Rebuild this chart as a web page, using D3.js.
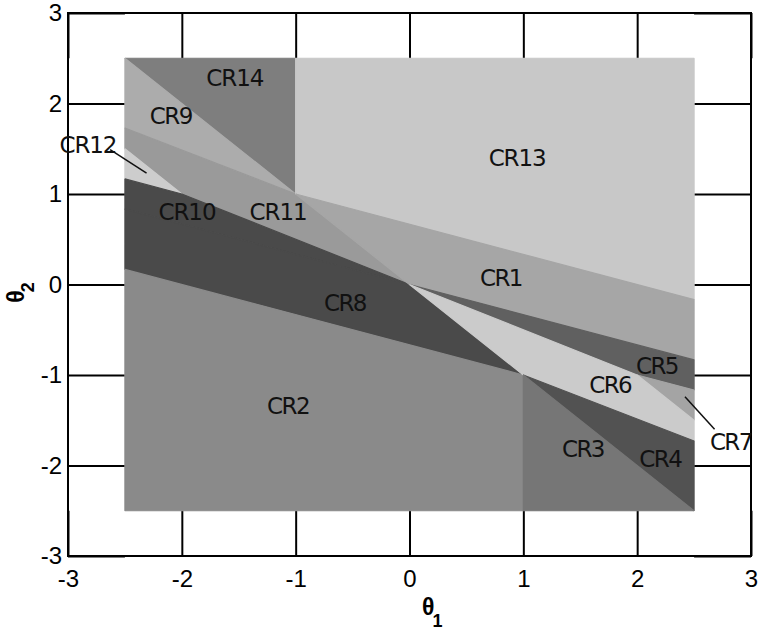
<!DOCTYPE html>
<html>
<head>
<meta charset="utf-8">
<script src="https://cdn.jsdelivr.net/npm/d3@7"></script>
<style>
  body { margin: 0; background: #fff; }
  svg { display: block; }
</style>
</head>
<body>
<svg id="chart"></svg>
<script>
// critical regions, vertices in (theta1, theta2)
const regionNames = ["CR14", "CR9", "CR11", "CR12", "CR10", "CR8", "CR2",
                     "CR13", "CR1", "CR5", "CR7", "CR6", "CR4", "CR3"]
const regionPoints = [
  [[-2.5, 2.5], [-1, 2.5], [-1, 1]],
  [[-2.5, 2.5], [-1, 1], [-2.5, 1.73]],
  [[-2.5, 1.73], [-1, 1], [0, 0], [-2, 1], [-2.5, 1.5]],
  [[-2.5, 1.5], [-2, 1], [-2.5, 1.167]],
  [[-2.5, 1.167], [-2, 1], [0, 0], [-2.5, 0.833]],
  [[-2.5, 0.833], [0, 0], [1, -1], [-2.5, 0.167]],
  [[-2.5, 0.167], [1, -1], [1, -2.5], [-2.5, -2.5]],
  [[-1, 2.5], [2.5, 2.5], [2.5, -0.167], [-1, 1]],
  [[-1, 1], [2.5, -0.167], [2.5, -0.833], [0, 0]],
  [[0, 0], [2.5, -0.833], [2.5, -1.167], [2, -1]],
  [[2, -1], [2.5, -1.167], [2.5, -1.5]],
  [[0, 0], [2, -1], [2.5, -1.5], [2.5, -1.73], [1, -1]],
  [[1, -1], [2.5, -1.73], [2.5, -2.5]],
  [[1, -1], [2.5, -2.5], [1, -2.5]]
]
const regionGray = ["#7e7e7e", "#acacac", "#9a9a9a", "#cdcdcd", "#4a4a4a", "#4a4a4a", "#8a8a8a",
                    "#c8c8c8", "#a6a6a6", "#606060", "#a4a4a4", "#cbcbcb", "#525252", "#767676"]

// label anchors (theta1, theta2)
const labelNames = ["CR14", "CR9", "CR12", "CR10", "CR11", "CR13", "CR1",
                    "CR8", "CR2", "CR5", "CR6", "CR7", "CR3", "CR4"]
const labelX = [-1.53, -2.09, -2.82, -1.95, -1.15, 0.95, 0.81, -0.56, -1.06, 2.18, 1.77, 2.83, 1.53, 2.21]
const labelY = [2.28, 1.86, 1.55, 0.80, 0.80, 1.40, 0.08, -0.20, -1.34, -0.90, -1.11, -1.74, -1.82, -1.93]

// leader lines for the small regions
const leaders = [
  {from: [-2.63, 1.49], to: [-2.31, 1.23]},
  {from: [2.42, -1.24], to: [2.68, -1.60]}
]

const ticks = [-3, -2, -1, 0, 1, 2, 3]

const width = 759, height = 632
const margin = {top: 13, right: 8, bottom: 76, left: 68}

const svg = d3.select('#chart')
    .attr('width', width)
    .attr('height', height)
    .style('font-family', '"Liberation Sans", Arial, sans-serif')

const x = d3.scaleLinear().domain([-3, 3]).range([margin.left, width - margin.right])
const y = d3.scaleLinear().domain([-3, 3]).range([height - margin.bottom, margin.top])

// tick lines reach in to the edge of the region box
const tickX = x(-2.5) - x(-3)
const tickY = y(-3) - y(-2.5)
const fmt = d => String(d)

function styleAxis(g, keepText) {
  g.select('.domain').remove()
  g.selectAll('.tick line').attr('stroke', '#000').attr('stroke-width', 2)
  if (!keepText) g.selectAll('.tick text').remove()
  g.selectAll('.tick text').attr('fill', '#000').style('font-size', '24px')
}

svg.append('g')
    .attr('transform', `translate(0,${y(-3)})`)
    .call(d3.axisBottom(x).tickValues(ticks).tickSize(-tickY).tickPadding(14).tickFormat(fmt))
    .call(g => styleAxis(g, true))

svg.append('g')
    .attr('transform', `translate(0,${y(3)})`)
    .call(d3.axisTop(x).tickValues(ticks).tickSize(-tickY))
    .call(g => styleAxis(g, false))

svg.append('g')
    .attr('transform', `translate(${x(-3)},0)`)
    .call(d3.axisLeft(y).tickValues(ticks).tickSize(-tickX).tickPadding(6).tickFormat(fmt))
    .call(g => styleAxis(g, true))

svg.append('g')
    .attr('transform', `translate(${x(3)},0)`)
    .call(d3.axisRight(y).tickValues(ticks).tickSize(-tickX))
    .call(g => styleAxis(g, false))

// box
svg.append('rect')
    .attr('x', x(-3))
    .attr('y', y(3))
    .attr('width', x(3) - x(-3))
    .attr('height', y(-3) - y(3))
    .attr('fill', 'none')
    .attr('stroke', '#000')
    .attr('stroke-width', 2)

// regions
const line = d3.line().x(d => x(d[0])).y(d => y(d[1]))

svg.append('g')
  .selectAll('path')
  .data(regionPoints)
  .join('path')
    .attr('d', d => line(d) + 'Z')
    .attr('fill', (d, i) => regionGray[i])
    .attr('stroke', (d, i) => regionGray[i])
    .attr('stroke-width', 1.2)
    .attr('stroke-linejoin', 'bevel')

// leaders
svg.append('g')
  .selectAll('line')
  .data(leaders)
  .join('line')
    .attr('x1', d => x(d.from[0]))
    .attr('y1', d => y(d.from[1]))
    .attr('x2', d => x(d.to[0]))
    .attr('y2', d => y(d.to[1]))
    .attr('stroke', '#111')
    .attr('stroke-width', 1.5)

// region labels
svg.append('g')
    .style('font-family', '"DejaVu Sans", sans-serif')
    .style('font-size', '23px')
  .selectAll('text')
  .data(labelNames)
  .join('text')
    .attr('x', (d, i) => x(labelX[i]))
    .attr('y', (d, i) => y(labelY[i]))
    .attr('dy', '0.36em')
    .attr('text-anchor', 'middle')
    .attr('fill', '#111')
    .attr('textLength', d => d.length * 14.5)
    .text(d => d)

// axis titles
const xt = svg.append('text')
    .attr('x', x(0.2))
    .attr('y', 615)
    .style('font-size', '23px')
    .style('font-weight', 'bold')
    .attr('text-anchor', 'middle')
xt.append('tspan').text('θ')
xt.append('tspan').attr('dx', -2).attr('dy', 12).style('font-size', '18px').text('1')

const yt = svg.append('text')
    .attr('transform', `translate(24,${y(0) + 8}) rotate(-90)`)
    .style('font-size', '23px')
    .style('font-weight', 'bold')
    .attr('text-anchor', 'middle')
yt.append('tspan').text('θ')
yt.append('tspan').attr('dx', -2).attr('dy', 10).style('font-size', '18px').text('2')
</script>
</body>
</html>
